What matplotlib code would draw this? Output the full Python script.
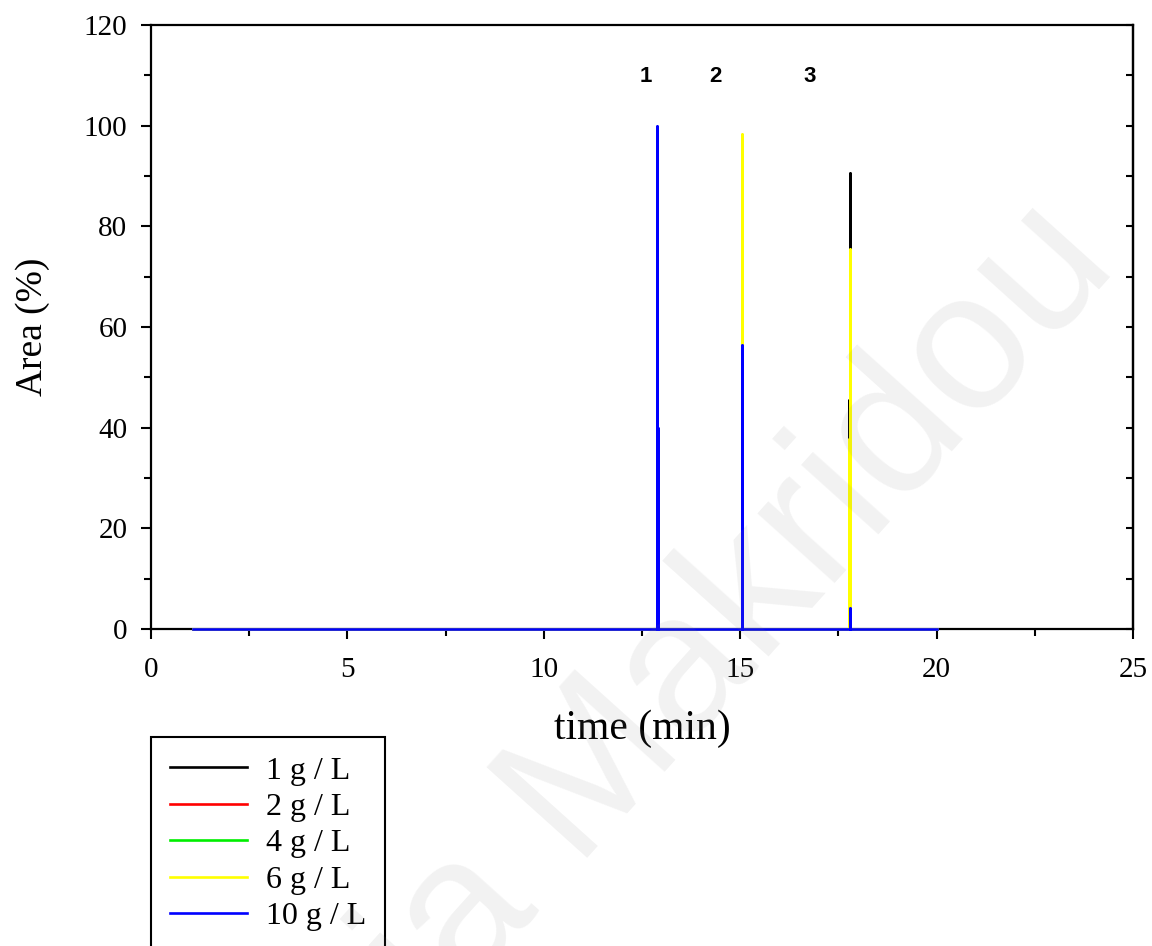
import numpy as np
import matplotlib
matplotlib.use("Agg")
import matplotlib.pyplot as plt

# chromatogram start / end (min)
t_start = 1.07
t_end = 20.0

labels = ["1 g / L", "2 g / L", "4 g / L", "6 g / L", "10 g / L"]
colors = ["black", "red", "#00ee00", "yellow", "blue"]

# peak retention times (min) and heights (Area %) per concentration
peak_times = [
    [12.88, 15.04, 17.77, 17.80],
    [12.88, 15.04, 17.80],
    [12.88, 15.04, 17.80],
    [12.88, 15.04, 17.77, 17.80],
    [12.88, 12.90, 15.04, 17.80],
]
peak_heights = [
    [96, 90, 45.5, 90.6],
    [97, 92, 70],
    [98, 94, 72],
    [99, 98.4, 37.8, 75.5],
    [100, 40, 56.5, 4.1],
]

peak_ids = ["1", "2", "3"]
peak_id_x = [12.6, 14.38, 16.78]
peak_id_y = 109.7


def stick_trace(times, heights):
    xs = [t_start]
    ys = [0]
    for t, h in sorted(zip(times, heights)):
        xs += [t, t, t]
        ys += [0, h, 0]
    xs.append(t_end)
    ys.append(0)
    return np.array(xs), np.array(ys)


serif = ["Liberation Serif", "DejaVu Serif"]
plt.rcParams["font.family"] = serif

fig = plt.figure(figsize=(11.52, 9.46), dpi=100)
ax = fig.add_axes([151 / 1152, 1 - 629 / 946, (1133 - 151) / 1152, (629 - 25) / 946])

for times, heights, c, lab in zip(peak_times, peak_heights, colors, labels):
    x, y = stick_trace(times, heights)
    ax.plot(x, y, color=c, lw=1.9, label=lab, zorder=3, clip_on=False)

ax.set_xlim(0, 25)
ax.set_ylim(0, 120)
ax.set_xticks(np.arange(0, 26, 5))
ax.set_xticks(np.arange(0, 25.1, 2.5), minor=True)
ax.set_yticks(np.arange(0, 121, 20))
ax.set_yticks(np.arange(0, 121, 10), minor=True)

for s in ax.spines.values():
    s.set_linewidth(1.6)

ax.tick_params(which="both", direction="out", width=1.5, labelsize=21,
               top=False, right=False)
ax.tick_params(which="major", length=7)
ax.tick_params(which="minor", length=5)
ax.tick_params(axis="x", pad=13)
ax.tick_params(axis="y", pad=10)

# inward ticks on the right spine
sec = ax.secondary_yaxis("right")
sec.set_yticks(np.arange(0, 121, 20))
sec.set_yticks(np.arange(0, 121, 10), minor=True)
sec.tick_params(which="both", direction="in", length=5, width=1.5, labelright=False)
sec.spines["right"].set_linewidth(1.6)

ax.set_xlabel("time (min)", fontsize=30, labelpad=19)
ax.set_ylabel("Area (%)", fontsize=27, labelpad=24)

for pid, px in zip(peak_ids, peak_id_x):
    ax.text(px, peak_id_y, pid, ha="center", va="center", fontsize=16,
            fontweight="bold", family=["Liberation Sans", "DejaVu Sans"])

leg = fig.legend(loc="upper left", bbox_to_anchor=(151 / 1152, 1 - 737 / 946),
                 fontsize=23, frameon=True, fancybox=False, edgecolor="black",
                 framealpha=1, handlelength=2.4, handletextpad=0.6,
                 labelspacing=0.22, borderpad=0.6, borderaxespad=0)
leg.get_frame().set_linewidth(1.5)

# faint watermark
fig.text(1120 / 1152, 1 - 267 / 946, "Maria Makridou", rotation=48,
         rotation_mode="anchor", ha="right", va="baseline", fontsize=142,
         color="gray", alpha=0.1, family=["Liberation Sans", "DejaVu Sans"],
         zorder=10)

fig.savefig("out.png", dpi=100)
